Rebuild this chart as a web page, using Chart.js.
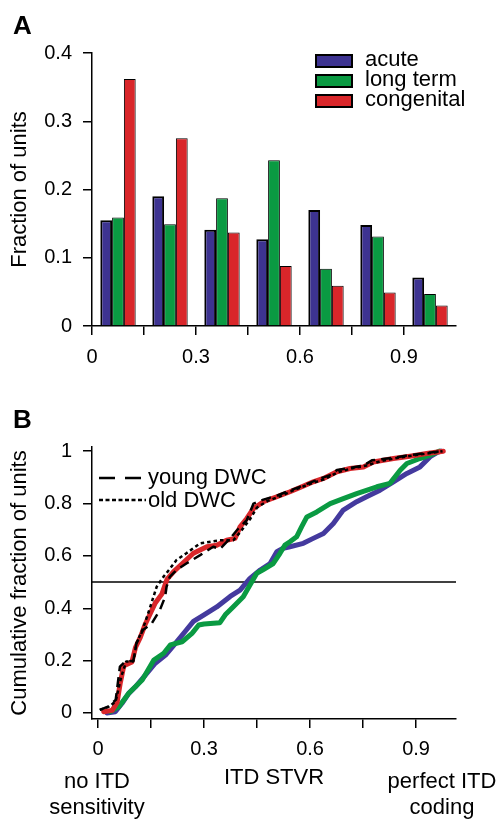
<!DOCTYPE html>
<html>
<head>
<meta charset="utf-8">
<title>ITD STVR distributions</title>
<script src="https://cdn.jsdelivr.net/npm/chart.js@4.4.1/dist/chart.umd.min.js"></script>
<style>
   body { margin: 0; background: #fff; }
   #page { position: relative; width: 501px; height: 820px; overflow: hidden;
           font-family: "Liberation Sans", Arial, sans-serif; color: #000; }
   .panel { position: absolute; left: 0; width: 501px; }
   #panelA { top: 0; height: 390px; }
   #panelB { top: 390px; height: 430px; }
   .tag { position: absolute; left: 13px; font-size: 26px; font-weight: bold; line-height: 26px; }
   .note { position: absolute; font-size: 22px; line-height: 26px; text-align: center;
           white-space: nowrap; transform: translateX(-50%); }
   .key { position: absolute; font-size: 22px; line-height: 21px; white-space: nowrap; }
   .swatch { position: absolute; width: 38px; height: 14px; border: 2px solid #000; box-sizing: border-box; }
   #keyB { position: absolute; left: 0; top: 0; pointer-events: none; }
</style>
</head>
<body>
<div id="page">
   <div class="panel" id="panelA"><canvas id="chartA"></canvas></div>
   <div class="panel" id="panelB"><canvas id="chartB"></canvas></div>

   <div class="tag" style="top:12px">A</div>
   <div class="tag" style="top:406px">B</div>

   <div id="keyA"></div>

   <svg id="keyB" width="501" height="820">
      <line x1="99" y1="478" x2="141" y2="478" stroke="#000" stroke-width="2.5" stroke-dasharray="16 10"></line>
      <line x1="99" y1="500" x2="146" y2="500" stroke="#000" stroke-width="2.5" stroke-dasharray="4 2.5"></line>
   </svg>
   <div class="key" style="left:148px; top:466px">young DWC</div>
   <div class="key" style="left:148px; top:489px">old DWC</div>

   <div class="note" style="left:97px; top:768px">no ITD<br>sensitivity</div>
   <div class="note" style="left:442px; top:768px">perfect ITD<br>coding</div>
</div>

<script>
   // Shared tick positions and labels
   // ----------------------------------------------
   const xTicks       = [0, 0.15, 0.3, 0.45, 0.6, 0.75, 0.9];
   const xTickLabels  = ['0', '', '0.3', '', '0.6', '', '0.9'];
   const yTicksA      = [0, 0.1, 0.2, 0.3, 0.4];
   const yTickLabelsA = ['0', '0.1', '0.2', '0.3', '0.4'];
   const yTicksB      = [0, 0.2, 0.4, 0.6, 0.8, 1];
   const yTickLabelsB = ['0', '0.2', '0.4', '0.6', '0.8', '1'];

   const seriesNames  = ['acute', 'long term', 'congenital'];
   const seriesColors = ['#3d3391', '#0a9a42', '#d9262a'];

   // Panel A : fraction of units per STVR bin
   // ----------------------------------------------
   const binCenters = [0.075, 0.225, 0.375, 0.525, 0.675, 0.825, 0.975];
   const acuteFrac  = [0.155, 0.190, 0.141, 0.127, 0.170, 0.148, 0.071];
   const longFrac   = [0.159, 0.149, 0.187, 0.243, 0.084, 0.131, 0.047];
   const congFrac   = [0.362, 0.275, 0.137, 0.088, 0.059, 0.049, 0.030];

   // Panel B : cumulative distributions
   // ----------------------------------------------
   const acuteX = [0.025, 0.049, 0.068, 0.087, 0.106, 0.134, 0.162, 0.191, 0.219, 0.25, 0.27, 0.30, 0.336, 0.374, 0.402, 0.43, 0.459, 0.487, 0.506, 0.524, 0.543, 0.581, 0.609, 0.638, 0.666, 0.694, 0.732, 0.76, 0.798, 0.836, 0.874, 0.911, 0.94, 0.958, 0.97];
   const acuteY = [0.0, 0.005, 0.037, 0.075, 0.1, 0.145, 0.19, 0.221, 0.266, 0.317, 0.35, 0.375, 0.405, 0.445, 0.469, 0.514, 0.546, 0.571, 0.616, 0.629, 0.635, 0.648, 0.667, 0.686, 0.724, 0.775, 0.807, 0.826, 0.851, 0.883, 0.915, 0.94, 0.979, 0.994, 1.0];

   const longX = [0.035, 0.059, 0.087, 0.125, 0.158, 0.186, 0.205, 0.238, 0.266, 0.285, 0.30, 0.345, 0.36, 0.383, 0.411, 0.43, 0.449, 0.468, 0.496, 0.515, 0.529, 0.543, 0.562, 0.576, 0.591, 0.619, 0.657, 0.694, 0.732, 0.789, 0.826, 0.855, 0.874, 0.911, 0.94, 0.965];
   const longY = [0.005, 0.024, 0.075, 0.126, 0.202, 0.228, 0.26, 0.272, 0.304, 0.336, 0.34, 0.345, 0.375, 0.406, 0.444, 0.489, 0.533, 0.548, 0.571, 0.61, 0.641, 0.654, 0.673, 0.711, 0.749, 0.768, 0.8, 0.819, 0.838, 0.864, 0.877, 0.927, 0.953, 0.972, 0.985, 1.0];

   const congX = [0.016, 0.04, 0.054, 0.063, 0.073, 0.096, 0.106, 0.12, 0.134, 0.148, 0.162, 0.181, 0.195, 0.214, 0.238, 0.27, 0.308, 0.336, 0.364, 0.388, 0.402, 0.421, 0.44, 0.468, 0.506, 0.543, 0.58, 0.609, 0.638, 0.676, 0.713, 0.751, 0.779, 0.836, 0.883, 0.93, 0.977];
   const congY = [0.005, 0.01, 0.04, 0.115, 0.18, 0.195, 0.25, 0.29, 0.34, 0.38, 0.42, 0.455, 0.51, 0.54, 0.57, 0.61, 0.635, 0.641, 0.66, 0.667, 0.711, 0.743, 0.781, 0.807, 0.826, 0.845, 0.866, 0.883, 0.896, 0.921, 0.934, 0.94, 0.959, 0.972, 0.981, 0.991, 1.0];

   const youngX = [0.005, 0.03, 0.05, 0.062, 0.076, 0.1, 0.109, 0.128, 0.152, 0.175, 0.19, 0.194, 0.203, 0.222, 0.25, 0.289, 0.326, 0.345, 0.374, 0.393, 0.421, 0.44, 0.468, 0.506, 0.543, 0.58, 0.609, 0.638, 0.66, 0.676, 0.713, 0.751, 0.775, 0.836, 0.883, 0.93, 0.97];
   const youngY = [0.012, 0.025, 0.05, 0.177, 0.195, 0.2, 0.267, 0.318, 0.342, 0.393, 0.444, 0.482, 0.52, 0.546, 0.571, 0.603, 0.635, 0.626, 0.667, 0.698, 0.737, 0.80, 0.815, 0.83, 0.85, 0.868, 0.885, 0.9, 0.91, 0.928, 0.936, 0.945, 0.965, 0.975, 0.985, 0.993, 1.0];

   const oldX = [0.005, 0.033, 0.05, 0.066, 0.08, 0.1, 0.109, 0.128, 0.142, 0.166, 0.185, 0.203, 0.222, 0.25, 0.289, 0.345, 0.383, 0.402, 0.43, 0.45, 0.48, 0.52, 0.56, 0.6, 0.64, 0.68, 0.72, 0.76, 0.8, 0.85, 0.9, 0.94, 0.975];
   const oldY = [0.012, 0.025, 0.045, 0.14, 0.197, 0.197, 0.267, 0.325, 0.381, 0.482, 0.52, 0.55, 0.584, 0.61, 0.648, 0.66, 0.66, 0.69, 0.74, 0.785, 0.81, 0.83, 0.855, 0.875, 0.893, 0.92, 0.935, 0.945, 0.962, 0.975, 0.985, 0.993, 1.0];

   const xMinB = -0.017, xMaxB = 1.013;
   const medianLevel = 0.5;

   const pairs = (xs, ys) => xs.map((x, i) => ({ x: x, y: ys[i] }));

   Chart.defaults.font.family = '"Liberation Sans", Arial, sans-serif';
   Chart.defaults.color = '#000';

   const axisGrid   = { offset: false, drawOnChartArea: false, color: '#000', lineWidth: 1.5, tickLength: 9 };
   const axisBorder = { color: '#000', width: 1.5 };


   // Legend for panel A (html, placed inside the plot)
   // ----------------------------------------------
   const keyA = document.getElementById('keyA');
   seriesNames.forEach((name, i) => {
      const sw = document.createElement('div');
      sw.className = 'swatch';
      sw.style.left = '315px';
      sw.style.top = (54 + i * 20) + 'px';
      sw.style.background = seriesColors[i];
      keyA.appendChild(sw);

      const txt = document.createElement('div');
      txt.className = 'key';
      txt.style.left = '365px';
      txt.style.top = (48 + i * 20) + 'px';
      txt.textContent = name;
      keyA.appendChild(txt);
   });


   // Bar chart (panel A)
   // ----------------------------------------------
   new Chart(document.getElementById('chartA'), {
      type: 'bar',
      data: {
         datasets: [acuteFrac, longFrac, congFrac].map((vals, i) => ({
            label: seriesNames[i],
            data: pairs(binCenters, vals),
            backgroundColor: seriesColors[i],
            borderColor: '#000',
            borderWidth: i === 0 ? 2 : 1,
            categoryPercentage: 0.68,
            barPercentage: 1
         }))
      },
      options: {
         responsive: true,
         maintainAspectRatio: false,
         animation: false,
         layout: { padding: { top: 53, right: 45, bottom: 0, left: 0 } },
         plugins: {
            legend: { display: false },
            tooltip: { enabled: false }
         },
         scales: {
            x: {
               type: 'linear',
               min: 0,
               max: 1.05,
               offset: false,
               afterBuildTicks: s => { s.ticks = xTicks.map(v => ({ value: v })); },
               afterFit: s => { s.height = 64; },
               grid: axisGrid,
               border: axisBorder,
               ticks: {
                  autoSkip: false,
                  maxRotation: 0,
                  padding: 10,
                  font: { size: 20 },
                  callback: (v, i) => xTickLabels[i]
               }
            },
            y: {
               min: 0,
               max: 0.4,
               afterBuildTicks: s => { s.ticks = yTicksA.map(v => ({ value: v })); },
               afterFit: s => { s.width = 92; },
               title: {
                  display: true,
                  text: 'Fraction of units',
                  font: { size: 22 },
                  padding: { top: 7, bottom: 0 }
               },
               grid: axisGrid,
               border: axisBorder,
               ticks: {
                  padding: 11,
                  font: { size: 20 },
                  callback: (v, i) => yTickLabelsA[i]
               }
            }
         }
      }
   });


   // Cumulative curves (panel B)
   // ----------------------------------------------
   const curve = (label, xs, ys, color, width, dash, order) => ({
      label: label,
      data: pairs(xs, ys),
      showLine: true,
      borderColor: color,
      backgroundColor: color,
      borderWidth: width,
      borderDash: dash,
      borderJoinStyle: 'round',
      borderCapStyle: dash.length ? 'butt' : 'round',
      pointRadius: 0,
      tension: 0,
      order: order
   });

   new Chart(document.getElementById('chartB'), {
      type: 'scatter',
      data: {
         datasets: [
            curve('young DWC', youngX, youngY, '#000', 2.5, [10, 6], 0),
            curve('old DWC', oldX, oldY, '#000', 2.5, [3.5, 3], 0),
            curve(seriesNames[2], congX, congY, seriesColors[2], 5, [], 1),
            curve(seriesNames[1], longX, longY, seriesColors[1], 5, [], 2),
            curve(seriesNames[0], acuteX, acuteY, '#443a9e', 5, [], 3),
            curve('median', [xMinB, xMaxB], [medianLevel, medianLevel], '#000', 1.5, [], 4)
         ]
      },
      options: {
         responsive: true,
         maintainAspectRatio: false,
         animation: false,
         layout: { padding: { top: 57, right: 45, bottom: 0, left: 0 } },
         plugins: {
            legend: { display: false },
            tooltip: { enabled: false }
         },
         scales: {
            x: {
               type: 'linear',
               min: xMinB,
               max: xMaxB,
               afterBuildTicks: s => { s.ticks = xTicks.map(v => ({ value: v })); },
               afterFit: s => { s.height = 101; },
               title: {
                  display: true,
                  text: 'ITD STVR',
                  font: { size: 22 },
                  padding: { top: 0, bottom: 29 }
               },
               grid: axisGrid,
               border: axisBorder,
               ticks: {
                  autoSkip: false,
                  maxRotation: 0,
                  padding: 9,
                  font: { size: 20 },
                  callback: (v, i) => xTickLabels[i]
               }
            },
            y: {
               min: -0.023,
               max: 1.016,
               afterBuildTicks: s => { s.ticks = yTicksB.map(v => ({ value: v })); },
               afterFit: s => { s.width = 92; },
               title: {
                  display: true,
                  text: 'Cumulative fraction of units',
                  font: { size: 22 },
                  padding: { top: 7, bottom: 0 }
               },
               grid: axisGrid,
               border: axisBorder,
               ticks: {
                  padding: 11,
                  font: { size: 20 },
                  callback: (v, i) => yTickLabelsB[i]
               }
            }
         }
      }
   });
</script>
</body>
</html>
